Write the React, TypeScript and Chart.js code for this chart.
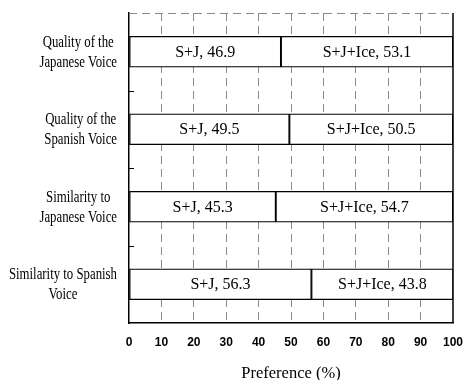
import React, { useEffect, useRef } from "react";
import { Chart, registerables } from "chart.js";

Chart.register(...registerables);

const categories: string[][] = [
  ["Quality of the", "Japanese Voice"],
  ["Quality of the", "Spanish Voice"],
  ["Similarity to", "Japanese Voice"],
  ["Similarity to Spanish", "Voice"],
];
const seriesNames = ["S+J", "S+J+Ice"];
const sjValues = [46.9, 49.5, 45.3, 56.3];
const iceValues = [53.1, 50.5, 54.7, 43.8];
const xTickMin = 0;
const xTickMax = 100;
const xTickStep = 10;
const xTitle = "Preference (%)";

const SERIF = "'Liberation Serif', 'Times New Roman', serif";

const decorPlugin = {
  id: "decor",
  beforeDatasetsDraw(chart: any) {
    const { ctx, chartArea } = chart;
    ctx.save();
    ctx.strokeStyle = "#888";
    ctx.lineWidth = 1;
    ctx.setLineDash([8, 5]);
    ctx.beginPath();
    ctx.moveTo(chartArea.left, chartArea.top + 0.5);
    ctx.lineTo(chartArea.right, chartArea.top + 0.5);
    ctx.stroke();
    ctx.restore();
  },
  afterDatasetsDraw(chart: any) {
    const { ctx, chartArea } = chart;
    ctx.save();
    ctx.font = `16px ${SERIF}`;
    ctx.fillStyle = "#000";
    ctx.textAlign = "center";
    ctx.textBaseline = "middle";
    chart.data.datasets.forEach((ds: any, di: number) => {
      const meta = chart.getDatasetMeta(di);
      meta.data.forEach((bar: any, i: number) => {
        const cx = (bar.x + bar.base) / 2;
        ctx.fillText(`${seriesNames[di]}, ${ds.data[i]}`, cx, bar.y + 1);
      });
    });
    ctx.strokeStyle = "#000";
    ctx.lineWidth = 1.5;
    ctx.beginPath();
    ctx.moveTo(chartArea.right, chartArea.top);
    ctx.lineTo(chartArea.right, chartArea.bottom);
    ctx.stroke();
    const yScale = chart.scales.y;
    ctx.lineWidth = 1;
    for (let i = 0; i < categories.length - 1; i++) {
      const yb = (yScale.getPixelForValue(i) + yScale.getPixelForValue(i + 1)) / 2;
      ctx.beginPath();
      ctx.moveTo(chartArea.left, Math.round(yb) + 0.5);
      ctx.lineTo(chartArea.left + 5, Math.round(yb) + 0.5);
      ctx.stroke();
    }
    const fontSize = 16;
    const sx = 0.8;
    const lineH = 20;
    const rightEdge = 117;
    ctx.font = `${fontSize}px ${SERIF}`;
    ctx.textAlign = "center";
    ctx.textBaseline = "middle";
    categories.forEach((lines, i) => {
      const cy = yScale.getPixelForValue(i);
      const widths = lines.map((l) => ctx.measureText(l).width * sx);
      const bw = Math.max(...widths);
      const cx = rightEdge - bw / 2;
      lines.forEach((l, li) => {
        const ly = cy + (li - (lines.length - 1) / 2) * lineH + 1;
        ctx.save();
        ctx.translate(cx, ly);
        ctx.scale(sx, 1);
        ctx.fillText(l, 0, 0);
        ctx.restore();
      });
    });
    ctx.restore();
  },
};

export default function App() {
  const ref = useRef<HTMLCanvasElement | null>(null);
  useEffect(() => {
    if (!ref.current) return;
    const labels = categories.map((c) => c.join(" "));
    const chart = new Chart(ref.current, {
      type: "bar",
      data: {
        labels,
        datasets: [
          {
            label: seriesNames[0],
            data: sjValues,
            backgroundColor: "#fff",
            borderColor: "#000",
            borderWidth: 1.3,
            borderSkipped: false,
            barThickness: 31,
          },
          {
            label: seriesNames[1],
            data: iceValues,
            backgroundColor: "#fff",
            borderColor: "#000",
            borderWidth: 1.3,
            borderSkipped: false,
            barThickness: 31,
          },
        ],
      },
      options: {
        indexAxis: "y",
        animation: false,
        responsive: false,
        layout: { padding: { left: 0, top: 13, right: 11, bottom: 0 } },
        plugins: {
          legend: { display: false },
          tooltip: { enabled: false },
          title: { display: false },
        },
        scales: {
          x: {
            stacked: true,
            min: xTickMin,
            max: xTickMax,
            ticks: {
              stepSize: xTickStep,
              color: "#000",
              padding: 12,
              maxRotation: 0,
              font: { family: "'Liberation Sans', Arial, sans-serif", size: 12, weight: "bold" },
            },
            grid: {
              color: (c: any) => (c.tick && (c.tick.value === 0 || c.tick.value === 100) ? "rgba(0,0,0,0)" : "#8a8a8a"),
              lineWidth: 1,
              drawTicks: false,
            },
            border: { display: true, color: "#000", width: 1.5, dash: [8, 5] },
            title: {
              display: true,
              text: xTitle,
              color: "#000",
              font: { family: SERIF, size: 16.5, lineHeight: 1 },
              padding: { top: 0, bottom: -2 },
            },
            afterFit: (scale: any) => {
              scale.height = 57;
              scale.paddingLeft = 0;
              scale.paddingRight = 0;
            },
          },
          y: {
            stacked: true,
            ticks: { display: false },
            grid: { display: false },
            border: { display: true, color: "#000", width: 1.5 },
            afterFit: (scale: any) => {
              scale.width = 129;
            },
          },
        },
      },
      plugins: [decorPlugin],
    });
    return () => chart.destroy();
  }, []);
  return (
    <div style={{ position: "fixed", left: 0, top: 0, width: 464, height: 380, background: "#fff" }}>
      <canvas ref={ref} width={464} height={380} />
    </div>
  );
}
